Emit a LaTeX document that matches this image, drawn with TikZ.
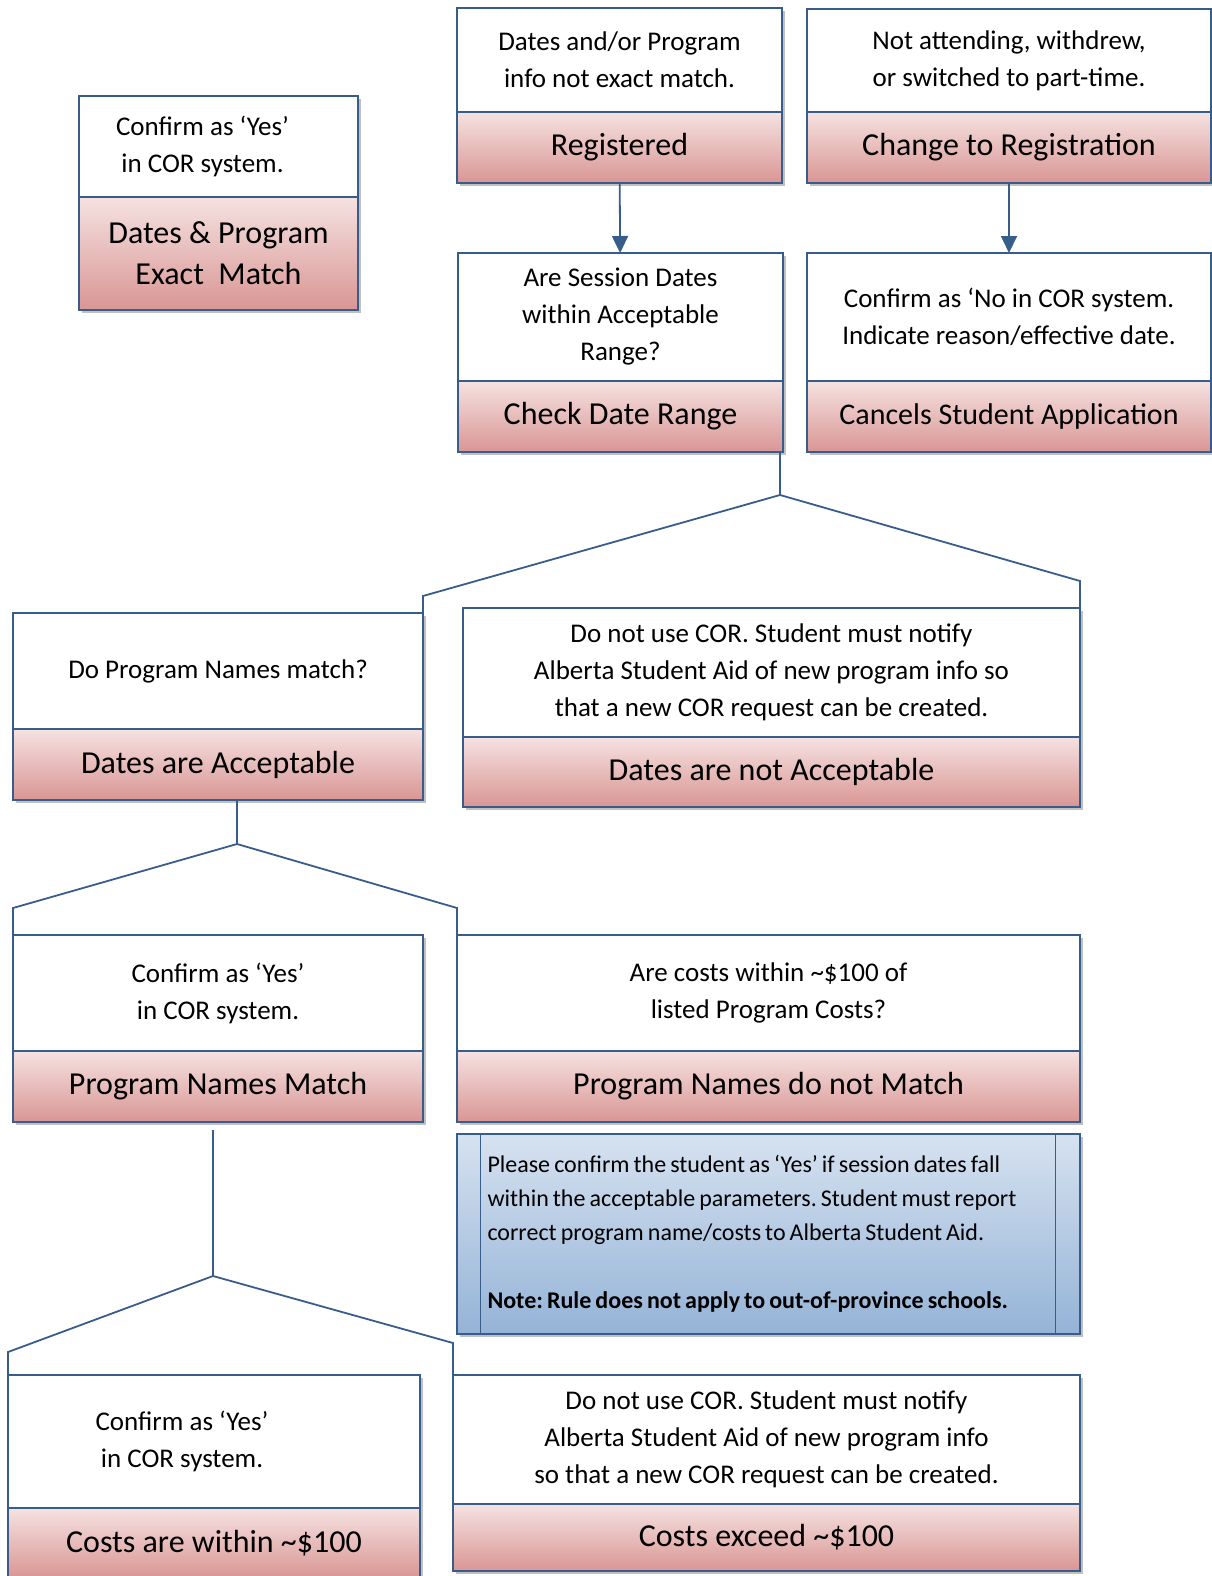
\documentclass[tikz,border=0pt]{standalone}
\usepackage{fontspec}
\setmainfont{Carlito}
\usetikzlibrary{positioning,shadows,arrows.meta}

\definecolor{edgeblue}{RGB}{56,93,138}
\definecolor{pinktop}{RGB}{245,226,225}
\definecolor{pinkbot}{RGB}{217,150,148}
\definecolor{notetop}{RGB}{214,226,240}
\definecolor{notebot}{RGB}{149,179,215}

\newcommand\tightspaces{\frenchspacing\spaceskip=0.17em plus 0.05em\relax}

\tikzset{
  boxshadow/.style={drop shadow={shadow xshift=3pt,shadow yshift=-3pt,opacity=.45,fill=black!55}},
  detail/.style={rectangle, draw=edgeblue, line width=1.4pt, fill=white, boxshadow,
    outer sep=0pt, inner sep=4pt, align=center, anchor=north west,
    font=\fontsize{27}{37}\selectfont},
  status/.style={rectangle, draw=edgeblue, line width=1.4pt, top color=pinktop,
    bottom color=pinkbot, boxshadow, outer sep=0pt, inner sep=4pt, align=center,
    font=\fontsize{32}{41}\selectfont},
  notebox/.style={rectangle, draw=edgeblue, line width=1.4pt, top color=notetop,
    bottom color=notebot, boxshadow, outer sep=0pt, inner sep=4pt, align=left,
    anchor=north west, font=\fontsize{24}{34}\selectfont},
  link/.style={draw=edgeblue, line width=1.8pt},
  flow/.style={link, -{Triangle[length=17pt,width=16pt]}}
}

\begin{document}
\begin{tikzpicture}[x=1pt,y=-1pt]
    \useasboundingbox (0,0) rectangle (1212,1576);

    % top row
    \node[detail, minimum width=279pt, minimum height=101pt] (exact info) at (79,96)
        {\begin{tabular}{@{}c@{}}Confirm as ‘Yes’\\in COR system.\end{tabular}\hspace*{32pt}};
    \node[status, minimum width=279pt, minimum height=113pt, below=0pt of exact info] (exact)
        {Dates \& Program\\Exact~ Match};

    \node[detail, minimum width=325pt, minimum height=104pt] (reg info) at (457,8)
        {Dates and/or Program\\info not exact match.};
    \node[status, minimum width=325pt, minimum height=71pt, below=0pt of reg info] (reg) {Registered};

    \node[detail, minimum width=404pt, minimum height=103pt] (chg info) at (807,9)
        {Not attending, withdrew,\\or switched to part-time.};
    \node[status, minimum width=404pt, minimum height=71pt, below=0pt of chg info] (chg) {Change to Registration};

    % second row
    \node[detail, minimum width=325pt, minimum height=128pt] (range info) at (458,253)
        {Are Session Dates\\within Acceptable\\Range?};
    \node[status, minimum width=325pt, minimum height=71pt, below=0pt of range info] (range) {Check Date Range};

    \node[detail, minimum width=404pt, minimum height=128pt] (cancel info) at (807,253)
        {Confirm as ‘No in COR system.\\Indicate reason/effective date.};
    \node[status, minimum width=404pt, minimum height=71pt, below=0pt of cancel info,
        font=\fontsize{30}{38}\selectfont] (cancel) {Cancels Student Application};

    \draw[flow] (reg) -- (range info);
    \draw[flow] (chg) -- (cancel info);

    % dates
    \node[detail, minimum width=410pt, minimum height=116pt] (dates ok info) at (13,613)
        {Do Program Names match?};
    \node[status, minimum width=410pt, minimum height=71pt, below=0pt of dates ok info] (dates ok) {Dates are Acceptable};

    \node[detail, minimum width=617pt, minimum height=129pt] (dates bad info) at (463,608)
        {Do not use COR. Student must notify\\Alberta Student Aid of new program info so\\that a new COR request can be created.};
    \node[status, minimum width=617pt, minimum height=70pt, below=0pt of dates bad info] (dates bad) {Dates are not Acceptable};

    \coordinate (fork1) at (780,495);
    \draw[link] (fork1 |- range.south) -- (fork1);
    \draw[link] (fork1) -- ([yshift=17pt]dates ok info.north east) -- (dates ok info.north east);
    \draw[link] (fork1) -- ([yshift=27pt]dates bad info.north east) -- (dates bad info.north east);

    % program names
    \node[detail, minimum width=410pt, minimum height=116pt] (names ok info) at (13,935)
        {Confirm as ‘Yes’\\in COR system.};
    \node[status, minimum width=410pt, minimum height=71pt, below=0pt of names ok info] (names ok) {Program Names Match};

    \node[detail, minimum width=623pt, minimum height=116pt] (names bad info) at (457,935)
        {Are costs within \textasciitilde\$100 of\\listed Program Costs?};
    \node[status, minimum width=623pt, minimum height=71pt, below=0pt of names bad info] (names bad) {Program Names do not Match};

    \coordinate (fork2) at (237,844);
    \draw[link] (fork2 |- dates ok.south) -- (fork2);
    \draw[link] (fork2) -- ([yshift=27pt]names ok info.north west) -- (names ok info.north west);
    \draw[link] (fork2) -- ([yshift=27pt]names bad info.north west) -- (names bad info.north west);

    % note
    \node[notebox, minimum width=623pt, minimum height=200pt, text width=562pt] (note) at (457,1134)
        {\tightspaces Please confirm the student as ‘Yes’ if session dates fall\\
         within the acceptable parameters. Student must report\\
         correct program name/costs to Alberta Student Aid.\\[34pt]
         \textbf{Note: Rule does not apply to out-of-province schools.}};
    \draw[edgeblue, line width=1pt] ([xshift=23pt]note.north west) -- ([xshift=23pt]note.south west);
    \draw[edgeblue, line width=1pt] ([xshift=-25pt]note.north east) -- ([xshift=-25pt]note.south east);

    % costs
    \node[detail, minimum width=412pt, minimum height=133pt] (within info) at (8,1375)
        {\begin{tabular}{@{}c@{}}Confirm as ‘Yes’\\in COR system.\end{tabular}\hspace*{64pt}};
    \node[status, minimum width=412pt, minimum height=70pt, below=0pt of within info] (within) {Costs are within \textasciitilde\$100};

    \node[detail, minimum width=627pt, minimum height=129pt] (exceed info) at (453,1375)
        {Do not use COR. Student must notify\\Alberta Student Aid of new program info\\so that a new COR request can be created.};
    \node[status, minimum width=627pt, minimum height=67pt, below=0pt of exceed info] (exceed) {Costs exceed \textasciitilde\$100};

    \coordinate (fork3) at (213,1276);
    \draw[link, shorten <=8pt] (fork3 |- names ok.south) -- (fork3);
    \draw[link] (fork3) -- ([yshift=23pt]within info.north west) -- (within info.north west);
    \draw[link] (fork3) -- ([yshift=32pt]exceed info.north west) -- (exceed info.north west);
\end{tikzpicture}
\end{document}
